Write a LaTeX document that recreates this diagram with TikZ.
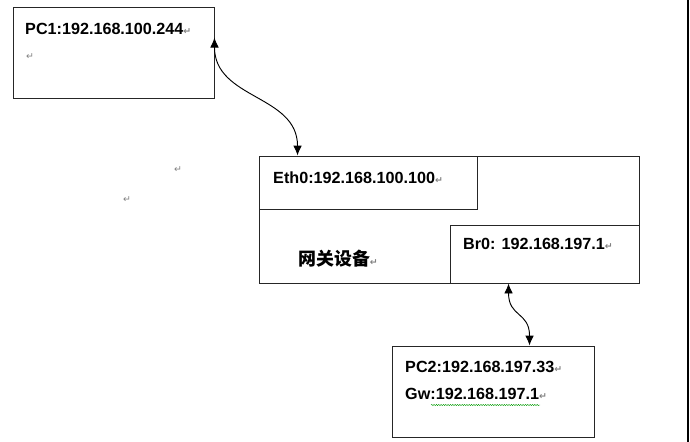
\documentclass[tikz,border=0pt]{standalone}
\usepackage{fontspec}
\setmainfont{Liberation Sans}
\newfontfamily\cjk{Noto Sans CJK SC}
\newfontfamily\symfont{DejaVu Sans}
\usetikzlibrary{fit,arrows.meta,decorations.pathmorphing}
\newcommand{\retmark}{{\symfont\fontsize{8}{8}\selectfont\color{gray}↵}}
\tikzset{
  box/.style={draw=black!85,line width=0.8pt,inner sep=0pt},
  iptext/.style={anchor=west,inner sep=0pt,font=\bfseries\fontsize{13.8}{16}\selectfont},
  retnode/.style={anchor=west,inner sep=0pt},
  link/.style={{Latex[length=3mm,width=2.6mm]}-{Latex[length=3mm,width=2.6mm]},line width=0.8pt}
}
\begin{document}
\begin{tikzpicture}[x=0.03cm,y=-0.03cm]
\useasboundingbox (0,0) rectangle (690,442);

\node[box,fit={(13,7) (214,98)}] (pc1) {};
\node[iptext] (pc1ip) at (25,29) {PC1:192.168.100.244\retmark};
\node[retnode] (pc1ret) at (26,57) {\retmark};

\node[retnode] (ret1) at (174,170) {\retmark};
\node[retnode] (ret2) at (123,200) {\retmark};

\node[box,fit={(259,156) (639,283)}] (gw) {};
\node[box,fit={(259,156) (477,209)}] (eth0) {};
\node[iptext] (eth0ip) at (273,178) {Eth0:192.168.100.100\retmark};
\node[box,fit={(450,225) (639,283)}] (br0) {};
\node[iptext] (br0ip) at (463,244) {Br0: 192.168.197.1\retmark};
\node[anchor=west,inner sep=0pt,font=\cjk\bfseries\fontsize{15.3}{17}\selectfont] (gwname) at (298,259) {网关设备\retmark};

\node[box,fit={(392,346) (594,437)}] (pc2) {};
\node[iptext] (pc2ip) at (405,367) {PC2:192.168.197.33\retmark};
\node[iptext] (pc2gw) at (405,394) {Gw:192.168.197.1\retmark};
\draw[green!60!black,line width=0.3pt,decorate,decoration={snake,amplitude=0.6pt,segment length=2pt}] (431,405) -- (540,405);

\draw[link] ([yshift=-0.93cm]pc1.north east) .. controls +(0,62) and +(0,-61) .. ([xshift=1.17cm]gw.north west);
\draw[link] ([xshift=1.77cm]br0.south west) .. controls +(0,34) and +(0,-34) .. ([xshift=4.14cm]pc2.north west);

\draw[line width=0.9pt] (688,0) -- (688,442);
\end{tikzpicture}
\end{document}
